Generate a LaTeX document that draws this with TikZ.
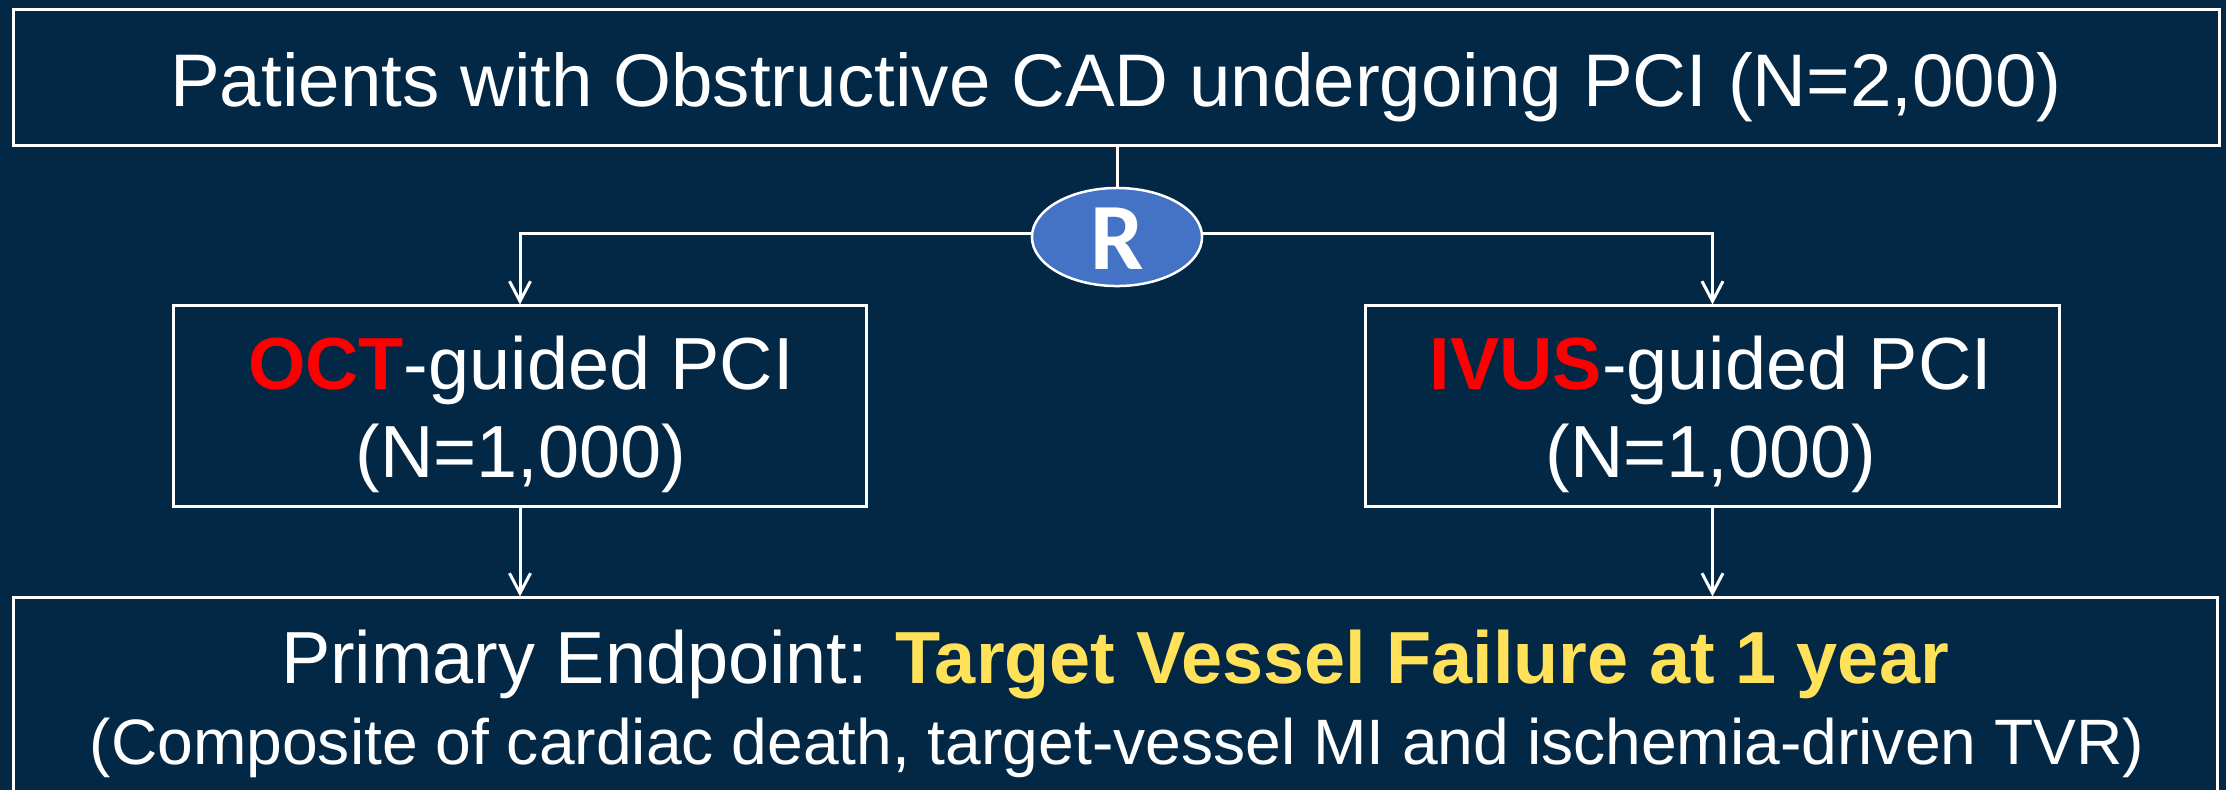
\documentclass[tikz,border=0pt]{standalone}
\usepackage{fontspec}
\setmainfont{Liberation Sans}
\newfontfamily\rfont{Carlito}
\usetikzlibrary{arrows.meta,shapes.geometric}
\definecolor{bgnavy}{RGB}{2,40,70}
\definecolor{rblue}{RGB}{68,114,196}
\definecolor{hlred}{RGB}{255,0,0}
\definecolor{hlyellow}{RGB}{255,225,90}
\tikzset{
  box/.style={draw=white, line width=0.03cm, inner sep=0pt},
  txt/.style={text=white, anchor=base, inner sep=0pt, font=\fontsize{21}{25}\selectfont},
  conn/.style={draw=white, line width=0.03cm},
  arr/.style={conn, -{Straight Barb[length=0.2cm,width=0.21cm,line width=0.03cm]}},
}
\begin{document}
\begin{tikzpicture}[x=0.01cm,y=-0.01cm]
\fill[bgnavy] (0,0) rectangle (2226,790);
\clip (0,0) rectangle (2226,790);
% boxes
\node[box, minimum width=22.05cm, minimum height=1.35cm] (top) at (1116.5,77.5) {};
\node[box, minimum width=6.92cm, minimum height=2.0cm] (oct) at (520,406) {};
\node[box, minimum width=6.93cm, minimum height=2.0cm] (ivus) at (1712.5,406) {};
\node[box, minimum width=22.03cm, minimum height=2.6cm] (endp) at (1115.5,728) {};
\node[ellipse, draw=white, line width=0.025cm, fill=rblue, minimum width=1.7cm, minimum height=0.98cm, inner sep=0pt] (R) at (1117,237) {};
\node[text=white, inner sep=0pt, font=\rfont\bfseries\fontsize{27}{30}\selectfont] (Rtxt) at (1117,239) {R};
% texts
\node[txt, font=\fontsize{21.2}{25}\selectfont] (toptxt) at (1116,106) {Patients with Obstructive CAD undergoing PCI (N=2,000)};
\node[txt] (oct1) at (521,389) {\textcolor{hlred}{\bfseries OCT}-guided PCI};
\node[txt] (oct2) at (521,477) {(N=1,000)};
\node[txt] (ivus1) at (1711,389) {\textcolor{hlred}{\bfseries IVUS}-guided PCI};
\node[txt] (ivus2) at (1711,477) {(N=1,000)};
\node[txt] (end1) at (1115,683) {Primary Endpoint: \textcolor{hlyellow}{\bfseries Target Vessel Failure at 1 year}};
\node[txt, font=\fontsize{18.25}{22}\selectfont] (end2) at (1117,764) {(Composite of cardiac death, target-vessel MI and ischemia-driven TVR)};
% connectors
\draw[conn] (top.south -| R.north) -- (R.north);
\draw[arr] (R.west |- 0,233) -| (oct.north);
\draw[arr] (R.east |- 0,233) -| (ivus.north);
\draw[arr] (oct.south) -- (oct.south |- endp.north);
\draw[arr] (ivus.south) -- (ivus.south |- endp.north);
\end{tikzpicture}
\end{document}
